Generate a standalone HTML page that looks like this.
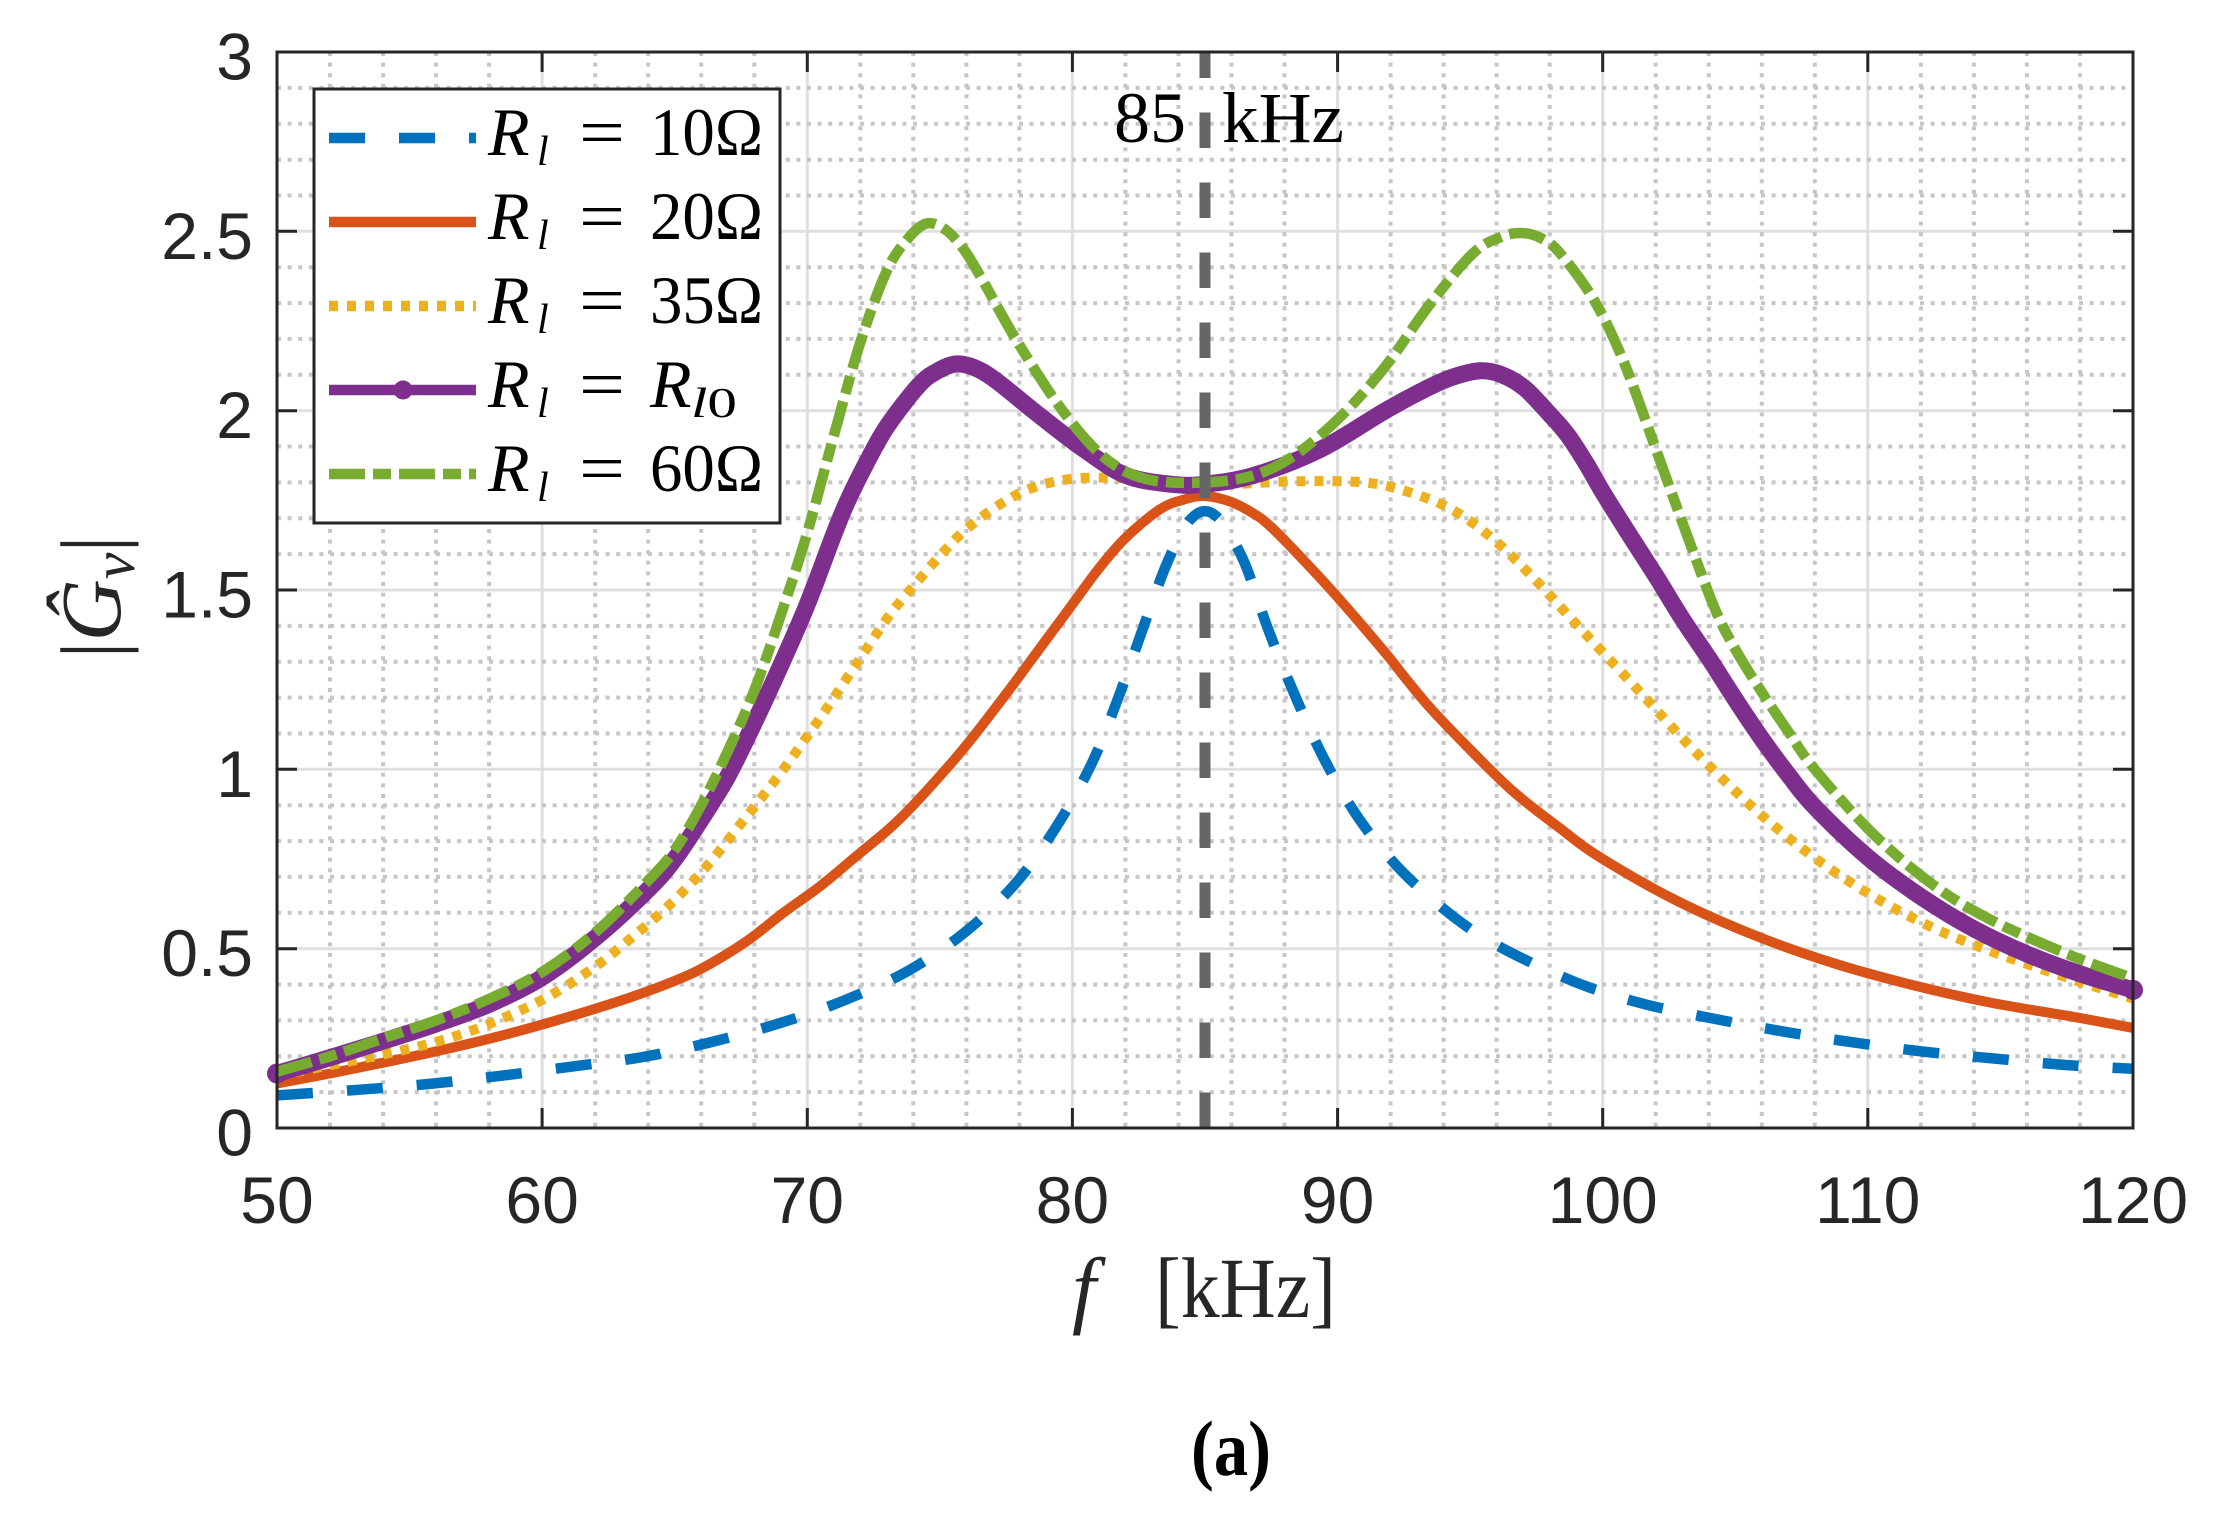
<!DOCTYPE html>
<html><head><meta charset="utf-8">
<style>html,body{margin:0;padding:0;background:#fff;}svg{display:block}</style>
</head><body>
<svg id="chart" width="2222" height="1513" viewBox="0 0 2222 1513" xmlns="http://www.w3.org/2000/svg">
<rect x="0" y="0" width="2222" height="1513" fill="#fff"/>

<!-- major grid -->
<path d="M542.1 52V1128M807.3 52V1128M1072.4 52V1128M1337.6 52V1128M1602.7 52V1128M1867.8 52V1128M277 948.7H2133M277 769.3H2133M277 590H2133M277 410.7H2133M277 231.3H2133" stroke="#dfdfdf" stroke-width="3" fill="none"/>

<!-- minor grid -->
<path d="M330 52V1128M383.1 52V1128M436.1 52V1128M489.1 52V1128M595.2 52V1128M648.2 52V1128M701.2 52V1128M754.3 52V1128M860.3 52V1128M913.3 52V1128M966.4 52V1128M1019.4 52V1128M1125.4 52V1128M1178.5 52V1128M1231.5 52V1128M1284.5 52V1128M1390.6 52V1128M1443.6 52V1128M1496.6 52V1128M1549.7 52V1128M1655.7 52V1128M1708.8 52V1128M1761.8 52V1128M1814.8 52V1128M1920.9 52V1128M1973.9 52V1128M2026.9 52V1128M2080 52V1128" stroke="#c6c6c6" stroke-width="4" stroke-dasharray="4 6.6" fill="none"/>
<path d="M277 1092.1H2133M277 1056.3H2133M277 1020.4H2133M277 984.5H2133M277 912.8H2133M277 876.9H2133M277 841.1H2133M277 805.2H2133M277 733.5H2133M277 697.6H2133M277 661.7H2133M277 625.9H2133M277 554.1H2133M277 518.3H2133M277 482.4H2133M277 446.5H2133M277 374.8H2133M277 338.9H2133M277 303.1H2133M277 267.2H2133M277 195.5H2133M277 159.7H2133M277 123.8H2133M277 87.9H2133" stroke="#c6c6c6" stroke-width="4" stroke-dasharray="4 6.6" fill="none"/>

<!-- blue 10 ohm -->
<polyline class="crv" fill="none" stroke="#0072BD" stroke-width="10.5" stroke-dasharray="36 34" stroke-linejoin="round" points="277,1095.4 364.5,1089.3 433.4,1083.5 502.4,1075.6 574,1066.3 642.9,1057 709.2,1042.6 780.8,1022.9 844.4,1000.3 908,970.9 966.4,931.1 1016.7,882 1056.5,826.4 1091,765 1117.5,699.8 1141.4,632.7 1165.2,567.4 1183.8,529 1194.4,515.7 1205,511.1 1215.6,515.7 1226.2,529 1244.8,563.4 1268.6,630.5 1295.1,695.8 1324.3,759.3 1358.8,818.5 1402.5,871.9 1456.9,919.3 1507.2,950.8 1581.5,984.5 1645.1,1004.3 1715.4,1019 1785.6,1031.9 1854.6,1042.6 1923.5,1051.6 1992.5,1058.4 2064,1064.9 2133,1068.8"/>

<!-- orange 20 ohm -->
<polyline class="crv" fill="none" stroke="#D95319" stroke-width="10" stroke-linejoin="round" points="277,1083.5 330,1073.5 388.4,1061.6 449.3,1048.4 507.7,1034 568.7,1016.8 627,998.5 674.7,980.9 705.2,966.6 746.3,941.5 783.4,912.8 820.5,885.9 855,857.2 889.5,828.5 913.3,805.2 950.5,764 974.3,735.3 1008.8,690.4 1030,661.7 1072.4,604.3 1098.9,568.5 1125.4,538 1159.9,509.3 1183.8,499.6 1205,496 1231.5,502.1 1255.4,514.7 1271.3,527.2 1297.8,554.1 1337.6,597.2 1385.3,652.8 1403.8,676.1 1429,706.6 1464.8,744.2 1512.5,790.9 1560.3,828.5 1598.7,856.5 1674.3,899.5 1753.8,935 1832,962.7 1910.3,984.5 1989.8,1002.5 2069.3,1016.1 2133,1027.9"/>

<!-- yellow 35 ohm -->
<polyline class="crv" fill="none" stroke="#EDB120" stroke-width="10" stroke-dasharray="9 9" stroke-linejoin="round" points="277,1076 330,1065.2 383.1,1054.5 436.1,1041.9 489.1,1024 547.4,997.1 595.2,966.6 627,941.5 666.8,907.4 705.2,868 743.6,820.3 783.4,769.3 823.2,713.5 863,654.2 889.5,615.1 913.3,586.4 939.9,555.9 966.4,529 1000.8,503.9 1032.6,487.8 1072.4,478.8 1125.4,478.1 1178.5,482.4 1205,484.2 1231.5,484.2 1297.8,481.3 1364.1,482.4 1406.5,491.4 1451.6,509.3 1494,539.8 1536.4,581 1576.2,624.1 1634.5,686.1 1692.8,749.2 1753.8,808.4 1812.2,856.1 1871.8,895.6 1931.5,927.1 1989.8,950.8 2069.3,978.4 2133,998.5"/>

<!-- purple Rl0 -->
<polyline class="crv" fill="none" stroke="#7E2F8E" stroke-width="17" stroke-linejoin="round" points="277,1073.5 330,1057.7 383.1,1041.2 436.1,1024 489.1,1004.3 542.1,977.4 595.2,937.9 648.2,889.5 674.7,859 701.2,819.5 727.7,776.5 754.3,722.7 780.8,665.3 807.3,604.3 833.8,534.4 847.1,502.1 865.6,464.5 886.8,426.8 918.6,385.6 937.2,371.2 955.8,364 974.3,367.6 995.5,380.2 1038,414.3 1083,448.7 1125.4,475.2 1170.5,484.2 1205,484.2 1255.4,474.9 1321.7,448.7 1385.3,410.7 1429,387.3 1454.2,376.6 1480.7,370.8 1501.9,374.8 1524.5,388.1 1549.7,414.3 1568.2,435.8 1586.8,464.5 1602.7,492.1 1629.2,534.4 1655.7,575.7 1682.2,618.7 1708.8,658.1 1735.3,699.4 1761.8,738.8 1788.3,774.7 1814.8,807 1867.8,857.2 1920.9,896.7 1973.9,928.9 2026.9,954 2080,973.8 2133,989.9"/>
<circle cx="277" cy="1073.5" r="10" fill="#7E2F8E"/>
<circle cx="2133" cy="989.9" r="10" fill="#7E2F8E"/>

<!-- green 60 ohm -->
<polyline class="crv" fill="none" stroke="#77AC30" stroke-width="10.5" stroke-dasharray="36 8 18 8" stroke-linejoin="round" points="277,1071.7 330,1056.3 383.1,1038.3 436.1,1020.4 489.1,998.9 542.1,972 595.2,932.5 648.2,880.5 674.7,850 701.2,805.2 727.7,751.4 754.3,690.4 780.8,615.1 807.3,532.6 833.8,435.8 860.3,342.5 886.8,270.8 908,238.5 926.6,223.5 945.2,229.5 963.7,249.3 982.3,279.7 1016.7,340.6 1061.8,409.6 1104.2,457.3 1146.7,479.2 1205,482.4 1255.4,474.9 1297.8,453 1342.9,414.3 1385.3,366.5 1429,305.5 1472.8,253.5 1501.9,236.7 1523.2,233.1 1541.7,238.5 1560.3,253.5 1594.7,301.3 1623.9,362.2 1655.7,448.7 1682.2,521.9 1714.1,606.9 1735.3,649.2 1761.8,692.2 1788.3,731.7 1814.8,769.3 1871.8,832.5 1931.5,883.7 1989.8,919.3 2069.3,954.8 2133,978.4"/>

<!-- 85 kHz line -->
<path id="vline" d="M1205 1128V52" stroke="#666666" stroke-width="11" stroke-dasharray="35.5 34.5" fill="none"/>

<!-- axes frame and ticks -->
<rect x="277" y="52" width="1856" height="1076" fill="none" stroke="#262626" stroke-width="3"/>
<path d="M542.1 1128V1108M807.3 1128V1108M1072.4 1128V1108M1337.6 1128V1108M1602.7 1128V1108M1867.8 1128V1108M542.1 52V72M807.3 52V72M1072.4 52V72M1337.6 52V72M1602.7 52V72M1867.8 52V72M277 948.7H297M277 769.3H297M277 590H297M277 410.7H297M277 231.3H297M2133 948.7H2113M2133 769.3H2113M2133 590H2113M2133 410.7H2113M2133 231.3H2113" stroke="#262626" stroke-width="3" fill="none"/>

<!-- tick labels -->
<g font-family="'Liberation Sans', Arial, sans-serif" font-size="66" fill="#262626" text-anchor="end">
<text x="253" y="1155.5">0</text>
<text x="253" y="976.2">0.5</text>
<text x="253" y="796.8">1</text>
<text x="253" y="617.5">1.5</text>
<text x="253" y="438.2">2</text>
<text x="253" y="258.8">2.5</text>
<text x="253" y="79.5">3</text>
</g>
<g font-family="'Liberation Sans', Arial, sans-serif" font-size="66" fill="#262626" text-anchor="middle">
<text x="277" y="1223">50</text>
<text x="542.1" y="1223">60</text>
<text x="807.3" y="1223">70</text>
<text x="1072.4" y="1223">80</text>
<text x="1337.6" y="1223">90</text>
<text x="1602.7" y="1223">100</text>
<text x="1867.8" y="1223">110</text>
<text x="2133" y="1223">120</text>
</g>

<!-- 85 kHz label -->
<g font-family="'Liberation Serif', 'Times New Roman', serif" font-size="72" fill="#000">
<text x="1114" y="142">85</text>
<text x="1222" y="142" textLength="122" lengthAdjust="spacingAndGlyphs">kHz</text>
</g>

<!-- legend -->
<rect x="314" y="89" width="466" height="434" fill="#fff" stroke="#262626" stroke-width="3"/>
<path d="M329 138H476" stroke="#0072BD" stroke-width="10.5" stroke-dasharray="36 34"/>
<path d="M329 222H476" stroke="#D95319" stroke-width="10.5"/>
<path d="M329 306H476" stroke="#EDB120" stroke-width="10.5" stroke-dasharray="9 9"/>
<path d="M329 390H476" stroke="#7E2F8E" stroke-width="10.5"/>
<circle cx="403" cy="390" r="9.5" fill="#7E2F8E"/>
<path d="M329 474H476" stroke="#77AC30" stroke-width="10.5" stroke-dasharray="36 8 18 8"/>

<g font-family="'Liberation Serif', 'Times New Roman', serif" fill="#000">
<text x="488" y="155" font-size="68" font-style="italic">R</text>
<text x="537" y="165" font-size="42" font-style="italic">l</text>
<text x="579" y="155" font-size="68" textLength="46" lengthAdjust="spacingAndGlyphs">=</text>
<text x="650" y="155" font-size="68" textLength="113" lengthAdjust="spacingAndGlyphs">10Ω</text>

<text x="488" y="239" font-size="68" font-style="italic">R</text>
<text x="537" y="249" font-size="42" font-style="italic">l</text>
<text x="579" y="239" font-size="68" textLength="46" lengthAdjust="spacingAndGlyphs">=</text>
<text x="650" y="239" font-size="68" textLength="113" lengthAdjust="spacingAndGlyphs">20Ω</text>

<text x="488" y="323" font-size="68" font-style="italic">R</text>
<text x="537" y="333" font-size="42" font-style="italic">l</text>
<text x="579" y="323" font-size="68" textLength="46" lengthAdjust="spacingAndGlyphs">=</text>
<text x="650" y="323" font-size="68" textLength="113" lengthAdjust="spacingAndGlyphs">35Ω</text>

<text x="488" y="407" font-size="68" font-style="italic">R</text>
<text x="537" y="417" font-size="42" font-style="italic">l</text>
<text x="579" y="407" font-size="68" textLength="46" lengthAdjust="spacingAndGlyphs">=</text>
<text x="650" y="407" font-size="68" font-style="italic">R</text>
<text x="691" y="417" font-size="42" textLength="46" lengthAdjust="spacingAndGlyphs"><tspan font-style="italic">l</tspan>0</text>

<text x="488" y="491" font-size="68" font-style="italic">R</text>
<text x="537" y="501" font-size="42" font-style="italic">l</text>
<text x="579" y="491" font-size="68" textLength="46" lengthAdjust="spacingAndGlyphs">=</text>
<text x="650" y="491" font-size="68" textLength="113" lengthAdjust="spacingAndGlyphs">60Ω</text>
</g>

<!-- axis labels -->
<g font-family="'Liberation Serif', 'Times New Roman', serif" fill="#262626" font-size="86">
<text x="1072" y="1317" font-style="italic">f</text>
<text x="1155" y="1317" textLength="181" lengthAdjust="spacingAndGlyphs">[kHz]</text>
<text transform="translate(120,597) rotate(-90)" text-anchor="middle">|<tspan font-style="italic">Ĝ</tspan><tspan font-style="italic" font-size="60" dy="14">v</tspan><tspan dy="-14">|</tspan></text>
</g>

<text x="1231" y="1475" font-family="'Liberation Serif', 'Times New Roman', serif" font-size="78" font-weight="bold" text-anchor="middle" fill="#000" textLength="80" lengthAdjust="spacingAndGlyphs">(a)</text>
</svg>
<script>
(function(){
  try{
    var NS="http://www.w3.org/2000/svg";
    var pls=document.querySelectorAll("polyline.crv");
    for(var k=0;k<pls.length;k++){
      var pl=pls[k];
      var raw=pl.getAttribute("points").trim().split(/\s+/);
      var P=[];
      for(var i=0;i<raw.length;i++){var a=raw[i].split(",");P.push([parseFloat(a[0]),parseFloat(a[1])]);}
      if(P.length<3) continue;
      var d="M"+P[0][0]+" "+P[0][1];
      for(var i=0;i<P.length-1;i++){
        var p0=P[i>0?i-1:i],p1=P[i],p2=P[i+1],p3=P[i+2<P.length?i+2:i+1];
        var c1x=p1[0]+(p2[0]-p0[0])/6,c1y=p1[1]+(p2[1]-p0[1])/6;
        var c2x=p2[0]-(p3[0]-p1[0])/6,c2y=p2[1]-(p3[1]-p1[1])/6;
        d+="C"+c1x.toFixed(2)+" "+c1y.toFixed(2)+" "+c2x.toFixed(2)+" "+c2y.toFixed(2)+" "+p2[0]+" "+p2[1];
      }
      var path=document.createElementNS(NS,"path");
      var attrs=["fill","stroke","stroke-width","stroke-dasharray","stroke-linejoin"];
      for(var j=0;j<attrs.length;j++){var v=pl.getAttribute(attrs[j]);if(v!==null)path.setAttribute(attrs[j],v);}
      path.setAttribute("d",d);
      pl.parentNode.replaceChild(path,pl);
    }
  }catch(e){}
})();
</script>
</body></html>
